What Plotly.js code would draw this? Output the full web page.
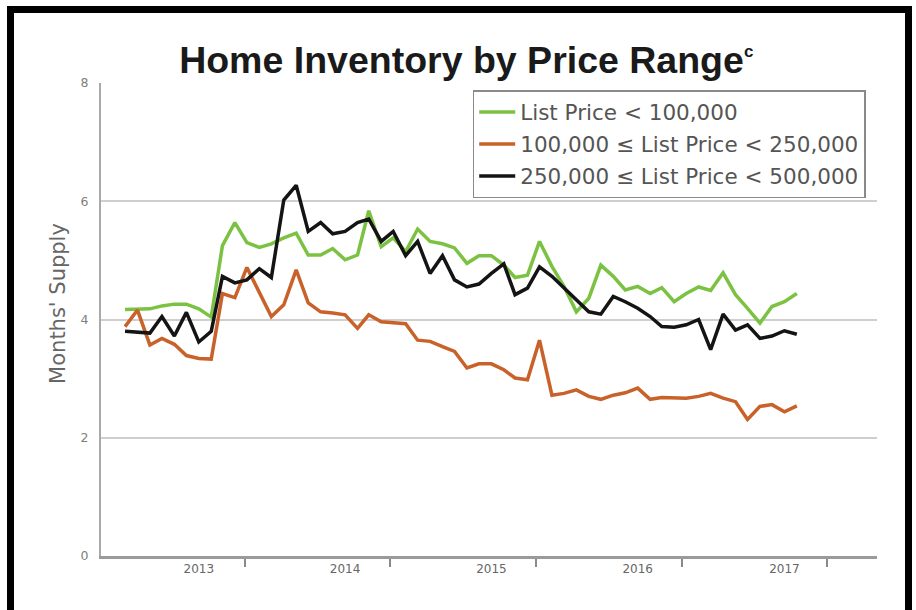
<!DOCTYPE html>
<html>
<head>
<meta charset="utf-8">
<script src="https://cdn.plot.ly/plotly-3.0.1.min.js"></script>
<style>
  html, body { margin: 0; padding: 0; background: #ffffff; }
  #chart { position: absolute; left: 0; top: 0; width: 916px; height: 610px; }
  #frame { position: absolute; left: 7px; top: 6px; width: 905px; height: 700px;
           box-sizing: border-box; border: 7px solid #000; border-bottom: none;
           pointer-events: none; z-index: 10; }
</style>
</head>
<body>
<div id="chart"></div>
<div id="frame"></div>
<script>
// Months (x categories)
const months = [
  '2012-07','2012-08','2012-09','2012-10','2012-11','2012-12',
  '2013-01','2013-02','2013-03','2013-04','2013-05','2013-06','2013-07','2013-08','2013-09','2013-10','2013-11','2013-12',
  '2014-01','2014-02','2014-03','2014-04','2014-05','2014-06','2014-07','2014-08','2014-09','2014-10','2014-11','2014-12',
  '2015-01','2015-02','2015-03','2015-04','2015-05','2015-06','2015-07','2015-08','2015-09','2015-10','2015-11','2015-12',
  '2016-01','2016-02','2016-03','2016-04','2016-05','2016-06','2016-07','2016-08','2016-09','2016-10','2016-11','2016-12',
  '2017-01','2017-02'
];

const seriesNames = [
  'List Price < 100,000',
  '100,000 \u2264 List Price < 250,000',
  '250,000 \u2264 List Price < 500,000'
];

const under100k = [4.17,4.17,4.18,4.23,4.26,4.26,4.18,4.04,5.25,5.64,5.30,5.22,5.28,5.38,5.46,5.09,5.09,5.20,5.01,5.09,5.84,5.23,5.38,5.15,5.53,5.32,5.28,5.21,4.95,5.08,5.08,4.92,4.71,4.75,5.32,4.90,4.56,4.13,4.36,4.92,4.73,4.50,4.56,4.44,4.54,4.30,4.44,4.55,4.49,4.79,4.42,4.19,3.94,4.22,4.30,4.44];
const from100kTo250k = [3.88,4.16,3.57,3.68,3.58,3.39,3.34,3.33,4.44,4.37,4.88,4.47,4.05,4.25,4.84,4.28,4.13,4.11,4.08,3.85,4.08,3.96,3.95,3.93,3.65,3.63,3.54,3.46,3.18,3.25,3.25,3.15,3.01,2.98,3.65,2.72,2.75,2.81,2.70,2.65,2.72,2.76,2.84,2.65,2.68,2.67,2.67,2.70,2.75,2.67,2.61,2.31,2.53,2.56,2.44,2.54];
const from250kTo500k = [3.80,3.79,3.77,4.05,3.72,4.12,3.62,3.80,4.73,4.62,4.67,4.86,4.71,6.02,6.27,5.49,5.64,5.45,5.49,5.64,5.70,5.32,5.49,5.08,5.32,4.78,5.08,4.67,4.55,4.60,4.78,4.94,4.42,4.53,4.89,4.73,4.53,4.33,4.13,4.09,4.39,4.30,4.19,4.05,3.88,3.87,3.91,4.00,3.49,4.09,3.82,3.91,3.68,3.72,3.81,3.75];

const yearTickVals = ['2013-01-01','2014-01-01','2015-01-01','2016-01-01','2017-01-01'];
const yearTickText = ['2013','2014','2015','2016','2017'];
const yearDividers = ['2013-04-26','2014-04-23','2015-04-22','2016-04-20','2017-04-17'];
const yTickVals = [0,2,4,6,8];

const colors = ['#7cc242', '#c8622a', '#141414'];
const seriesData = [under100k, from100kTo250k, from250kTo500k];

const traces = seriesData.map((vals, k) => ({
  type: 'scatter',
  mode: 'lines',
  x: months,
  y: vals,
  name: seriesNames[k],
  legendgroup: 'g' + k,
  line: { color: colors[k], width: 3.5, shape: 'linear' },
  hoverinfo: 'skip'
}));

const layout = {
  width: 916,
  height: 610,
  margin: { l: 101, r: 39, t: 83, b: 54, pad: 0 },
  paper_bgcolor: '#ffffff',
  plot_bgcolor: '#ffffff',
  showlegend: true,
  title: {
    text: 'Home Inventory by Price Range<sup><span style="font-size:17px">c</span></sup>',
    font: { family: 'Liberation Sans, Arial, sans-serif', size: 37.5, color: '#1a1a1a', weight: 'bold' },
    x: 0.509, xref: 'container', xanchor: 'center',
    y: 0.902, yref: 'container', yanchor: 'middle'
  },
  xaxis: {
    type: 'date',
    range: ['2012-05-02', '2017-08-20'],
    tickmode: 'array',
    tickvals: yearTickVals,
    ticktext: yearTickText,
    ticks: '',
    showgrid: false,
    zeroline: false,
    showline: true,
    linecolor: '#9a9a9a',
    linewidth: 2.5,
    tickfont: { family: 'DejaVu Sans, sans-serif', size: 12, color: '#666666' },
    minor: {
      tickmode: 'array',
      tickvals: yearDividers,
      ticks: 'outside',
      ticklen: 8,
      tickwidth: 1.5,
      tickcolor: '#8a8a8a',
      showgrid: false
    },
    fixedrange: true
  },
  yaxis: {
    range: [0, 8],
    tickmode: 'array',
    tickvals: yTickVals,
    ticks: '',
    showgrid: true,
    gridcolor: '#cfcfcf',
    gridwidth: 2,
    zeroline: false,
    showline: true,
    linecolor: '#aaaaaa',
    linewidth: 2,
    ticklabelstandoff: 8,
    tickfont: { family: 'DejaVu Sans, sans-serif', size: 12.5, color: '#808080' },
    fixedrange: true
  },
  legend: {
    x: 0.479, xref: 'paper', xanchor: 'left',
    y: 0.985, yref: 'paper', yanchor: 'top',
    bgcolor: '#ffffff',
    bordercolor: '#8a8a8a',
    borderwidth: 1.5,
    traceorder: 'grouped',
    tracegroupgap: 1,
    itemwidth: 36,
    font: { family: 'DejaVu Sans, sans-serif', size: 21.5, color: '#555555' }
  },
  annotations: [{
    text: "Months' Supply",
    xref: 'paper', yref: 'paper',
    x: -0.0554, y: 0.533,
    xanchor: 'center', yanchor: 'middle',
    textangle: -90,
    showarrow: false,
    font: { family: 'DejaVu Sans, sans-serif', size: 21, color: '#666666' }
  }]
};

Plotly.newPlot('chart', traces, layout, { staticPlot: true, displayModeBar: false });
</script>
</body>
</html>
